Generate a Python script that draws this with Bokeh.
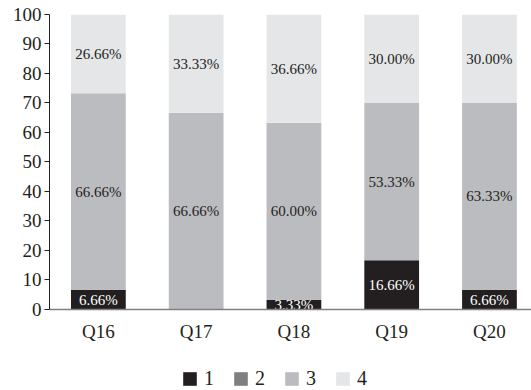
from bokeh.plotting import figure
from bokeh.models import ColumnDataSource, Range1d, Legend, FixedTicker
from bokeh.core.properties import value
from bokeh.embed import file_html
from bokeh.resources import INLINE

categories = ["Q16", "Q17", "Q18", "Q19", "Q20"]
s1 = [6.66, 0.0, 3.33, 16.66, 6.66]
s2 = [0.0, 0.0, 0.0, 0.0, 0.0]
s3 = [66.66, 66.66, 60.00, 53.33, 63.33]
s4 = [26.66, 33.33, 36.66, 30.00, 30.00]
series_names = ["1", "2", "3", "4"]
colors = ["#231f20", "#7f7f81", "#bbbcbf", "#e5e6e8"]

FONT = "Liberation Serif"

xs = list(range(len(categories)))
src = ColumnDataSource(dict(x=xs, s1=s1, s2=s2, s3=s3, s4=s4))

p = figure(width=531, height=390, output_backend="svg", toolbar_location=None,
           x_range=Range1d(-0.5, 4.43), y_range=Range1d(-27.46, 100),
           min_border_left=49, min_border_right=0, min_border_top=14, min_border_bottom=0)
p.outline_line_color = None
p.grid.grid_line_color = None
p.background_fill_color = "white"

renderers = p.vbar_stack(["s1", "s2", "s3", "s4"], x="x", width=0.56, color=colors,
                         line_color=None, source=src)

# labels
lab_x, lab_y, lab_t, lab_c = [], [], [], []
for i in xs:
    base = 0.0
    for vals, col in zip([s1, s2, s3, s4], ["white", "#231f20", "#231f20", "#231f20"]):
        v = vals[i]
        if v > 0:
            lab_x.append(i)
            lab_y.append(base + v / 2)
            lab_t.append(f"{v:.2f}%")
            lab_c.append(col)
        base += v
p.text(x=lab_x, y=lab_y, text=lab_t, text_color=lab_c, text_align="center",
       text_baseline="middle", text_font=value(FONT), text_font_size="15px")

# axes
p.yaxis.ticker = FixedTicker(ticks=list(range(0, 101, 10)))
p.yaxis.bounds = (0, 100)
p.yaxis.major_label_text_font = FONT
p.yaxis.major_label_text_font_size = "19px"
p.yaxis.major_label_text_color = "#231f20"
p.yaxis.axis_line_color = "#231f20"
p.yaxis.major_tick_line_color = "#231f20"
p.yaxis.major_tick_out = 5
p.yaxis.major_tick_in = 0
p.yaxis.minor_tick_line_color = None
p.yaxis.major_label_standoff = 3

p.xaxis.fixed_location = 0
p.xaxis.ticker = FixedTicker(ticks=xs)
p.xaxis.major_label_overrides = {i: c for i, c in enumerate(categories)}
p.xaxis.major_label_text_font = FONT
p.xaxis.major_label_text_font_size = "19px"
p.xaxis.major_label_text_color = "#231f20"
p.xaxis.axis_line_color = "#808080"
p.xaxis.axis_line_width = 1.5
p.xaxis.major_tick_line_color = None
p.xaxis.minor_tick_line_color = None
p.xaxis.major_label_standoff = 6

legend = Legend(items=[(n, [r]) for n, r in zip(series_names, renderers)],
                orientation="horizontal", location=(132, 0),
                glyph_width=17, glyph_height=17, label_text_font=FONT,
                label_text_font_size="20px", label_text_color="#231f20",
                label_width=20, spacing=8, label_standoff=6, border_line_color=None,
                background_fill_alpha=0, padding=0, margin=0)
p.add_layout(legend)

open("out.html", "w").write(file_html(p, INLINE))
